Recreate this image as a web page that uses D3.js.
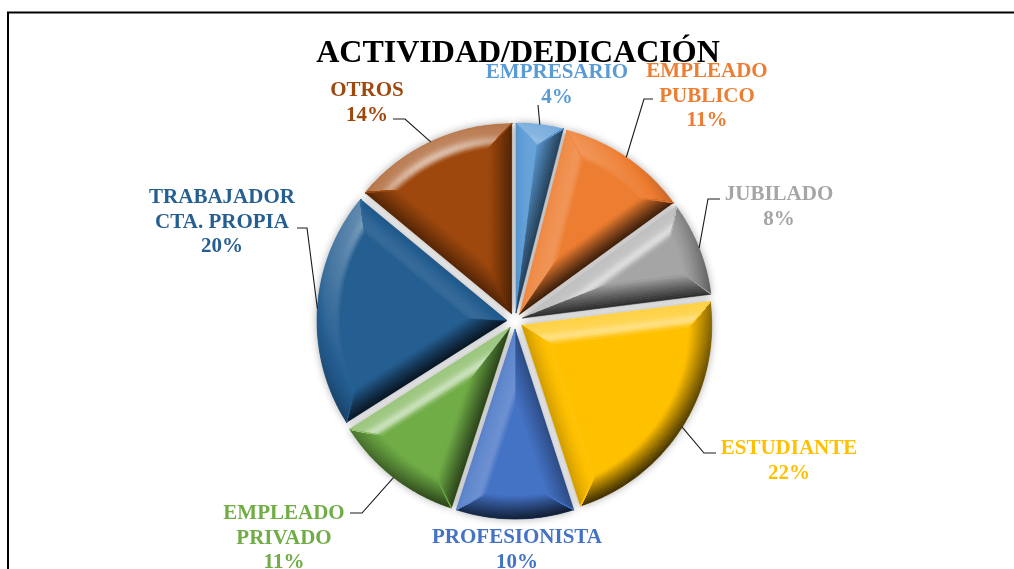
<!DOCTYPE html>
<html>
<head>
<meta charset="utf-8">
<script src="https://cdn.jsdelivr.net/npm/d3@7"></script>
<style>
  html, body { margin: 0; padding: 0; background: #fff; }
  svg { display: block; }
  text { font-family: "Liberation Serif", "Times New Roman", serif; font-weight: bold; }
</style>
</head>
<body>
<svg id="chart" width="1014" height="569"></svg>
<script>
// chart data
const title = 'ACTIVIDAD/DEDICACIÓN';
const categories = ['EMPRESARIO', 'EMPLEADO PUBLICO', 'JUBILADO', 'ESTUDIANTE', 'PROFESIONISTA',
  'EMPLEADO PRIVADO', 'TRABAJADOR CTA. PROPIA', 'OTROS'];
const values = [4, 11, 8, 22, 10, 11, 20, 14];
const sliceColors = ['#5B9BD5', '#ED7D31', '#A5A5A5', '#FFC000', '#4472C4', '#70AD47', '#255E91', '#9E480E'];

// label layout: text centre x, first baseline y, leader points going from text towards the slice
const labelX = [557, 707, 779, 789, 517, 284, 222, 367];
const labelY = [78, 77, 200, 454, 543, 519, 203, 96];
const leaderPts = [
  [[538, 105]],
  [[653, 99], [644, 99]],
  [[720, 199], [708, 199]],
  [[716, 453], [704, 453]],
  [],
  [[350, 513], [362, 513]],
  [[297, 228], [307, 228]],
  [[393, 119], [405, 119]]
];

const cx = 515, cy = 321;
const R = 190, explode = 8, bevel = 23;
const bands = 12, phiMax = 60 * Math.PI / 180;
const step = Math.PI / 360;

const svg = d3.select('#chart');

// frame
svg.append('rect')
  .attr('x', 8).attr('y', 12.5)
  .attr('width', 1030).attr('height', 600)
  .attr('fill', 'none')
  .attr('stroke', '#000')
  .attr('stroke-width', 2);

// soft shadow round the slices
const defs = svg.append('defs');
const shadow = defs.append('filter').attr('id', 'shadow')
  .attr('x', '-20%').attr('y', '-20%').attr('width', '140%').attr('height', '140%');
shadow.append('feGaussianBlur').attr('in', 'SourceAlpha').attr('stdDeviation', 4).attr('result', 'blur');
shadow.append('feComponentTransfer').attr('in', 'blur').attr('result', 'soft')
  .append('feFuncA').attr('type', 'linear').attr('slope', 0.35);
const merge = shadow.append('feMerge');
merge.append('feMergeNode').attr('in', 'soft');
merge.append('feMergeNode').attr('in', 'SourceGraphic');

// lighting helpers
const norm = v => { const l = Math.hypot(v[0], v[1], v[2]); return v.map(d => d / l); };
const dot = (a, b) => a[0] * b[0] + a[1] * b[1] + a[2] * b[2];
const lightDir = norm([-0.33, -0.66, 0.68]);
const halfVec = norm([lightDir[0], lightDir[1], lightDir[2] + 1]);
const diffuse = 0.8;

const shade = (base, n) => {
  const c = d3.rgb(base);
  const k = (1 - diffuse * lightDir[2]) + diffuse * dot(n, lightDir);
  const spec = Math.pow(Math.max(0, dot(n, halfVec)), 40) * 0.55;
  const ch = v => {
    const out = k <= 1 ? v * k : v + (255 - v) * Math.min(1, (k - 1) * 1.3);
    return out + (255 - out) * spec;
  };
  return d3.rgb(ch(c.r), ch(c.g), ch(c.b)).formatHex();
};

const dir = a => [Math.sin(a), -Math.cos(a)];
const normal = (a, phi) => { const u = dir(a); return [u[0] * Math.sin(phi), u[1] * Math.sin(phi), Math.cos(phi)]; };
const tilt = i => phiMax * Math.pow(1 - (i + 0.5) / bands, 0.8);

const pie = d3.pie().value(d => d).sort(null);
const arcs = pie(values);
const total = d3.sum(values);
const pct = d3.format('.0%');

const baseArc = d3.arc().innerRadius(0).outerRadius(R);
const line = d3.line();

const sliceLayer = svg.append('g').attr('filter', 'url(#shadow)');
const bevelLayer = svg.append('g');

arcs.forEach((d, idx) => {
  const a0 = d.startAngle, a1 = d.endAngle, am = (a0 + a1) / 2;
  const ox = cx + explode * Math.sin(am), oy = cy - explode * Math.cos(am);
  const color = sliceColors[idx];
  const pt = (t, r) => [ox + r * Math.sin(t), oy - r * Math.cos(t)];
  const kAt = t => Math.max(1e-9, Math.min(Math.sin(t - a0), Math.sin(a1 - t)));
  const rA = t => { const k = kAt(t); return Math.min(bevel / k, R / (1 + k)); };
  const rB = t => { const k = kAt(t); return Math.max(R - bevel, R / (1 + k)); };
  const samples = (t0, t1) => {
    const n = Math.max(2, Math.ceil((t1 - t0) / step));
    return d3.range(n + 1).map(j => t0 + (t1 - t0) * j / n);
  };

  sliceLayer.append('path')
    .attr('d', baseArc(d))
    .attr('transform', `translate(${ox},${oy})`)
    .attr('fill', color);

  const g = bevelLayer.append('g').attr('class', 'slice');

  // outer rim facet, split by angle and depth
  const ts = samples(a0, a1);
  for (let j = 0; j < ts.length - 1; j++) {
    const t0 = ts[j], t1 = ts[j + 1], tc = (t0 + t1) / 2;
    for (let i = 0; i < bands; i++) {
      const dOut = bevel * i / bands, dIn = bevel * (i + 1) / bands;
      const o0 = Math.max(R - dOut, rB(t0)), o1 = Math.max(R - dOut, rB(t1));
      const i0 = Math.max(R - dIn, rB(t0)), i1 = Math.max(R - dIn, rB(t1));
      if (o0 - i0 < 0.01 && o1 - i1 < 0.01) continue;
      const fill = shade(color, normal(tc, tilt(i)));
      g.append('path')
        .attr('d', line([pt(t0, o0), pt(t1, o1), pt(t1, i1), pt(t0, i0)]) + 'Z')
        .attr('fill', fill).attr('stroke', fill).attr('stroke-width', 0.6);
    }
  }

  // flat top face
  const tf = samples(a0, a1);
  const face = tf.map(t => pt(t, rA(t))).concat(tf.slice().reverse().map(t => pt(t, rB(t))));
  g.append('path').attr('d', line(face) + 'Z').attr('fill', color);

  // side facets along both straight edges
  [[a0, am, t => Math.sin(t - a0), a0 - Math.PI / 2], [am, a1, t => Math.sin(a1 - t), a1 + Math.PI / 2]]
    .forEach(([s0, s1, kf, outA]) => {
      const te = samples(s0, s1);
      for (let i = 0; i < bands; i++) {
        const dOut = bevel * i / bands, dIn = bevel * (i + 1) / bands;
        const outer = te.map(t => { const k = Math.max(1e-9, kf(t)); return pt(t, Math.min(dIn / k, rA(t))); });
        const inner = te.map(t => { const k = Math.max(1e-9, kf(t)); return pt(t, Math.min(dOut / k, rA(t))); });
        const fill = shade(color, normal(outA, tilt(i)));
        g.append('path')
          .attr('d', line(outer.concat(inner.reverse())) + 'Z')
          .attr('fill', fill).attr('stroke', fill).attr('stroke-width', 0.6);
      }
    });
});

// leader lines
arcs.forEach((d, idx) => {
  if (!leaderPts[idx].length) return;
  const am = (d.startAngle + d.endAngle) / 2;
  const rim = [cx + (R + explode) * Math.sin(am), cy - (R + explode) * Math.cos(am)];
  svg.append('path')
    .attr('d', line(leaderPts[idx].concat([rim])))
    .attr('fill', 'none')
    .attr('stroke', '#1a1a1a')
    .attr('stroke-width', 1.1);
});

// data labels
arcs.forEach((d, idx) => {
  const name = categories[idx];
  const cut = name.indexOf(' ');
  const lines = (cut > 0 ? [name.slice(0, cut), name.slice(cut + 1)] : [name]).concat([pct(d.value / total)]);
  const t = svg.append('text')
    .attr('x', labelX[idx])
    .attr('y', labelY[idx])
    .attr('text-anchor', 'middle')
    .attr('fill', sliceColors[idx])
    .style('font-size', '21px');
  lines.forEach((s, j) => {
    t.append('tspan')
      .attr('x', labelX[idx])
      .attr('dy', j === 0 ? 0 : 24.5)
      .text(s);
  });
});

// title
svg.append('text')
  .attr('x', 518)
  .attr('y', 62)
  .attr('text-anchor', 'middle')
  .attr('fill', '#000')
  .style('font-size', '32px')
  .text(title);
</script>
</body>
</html>
